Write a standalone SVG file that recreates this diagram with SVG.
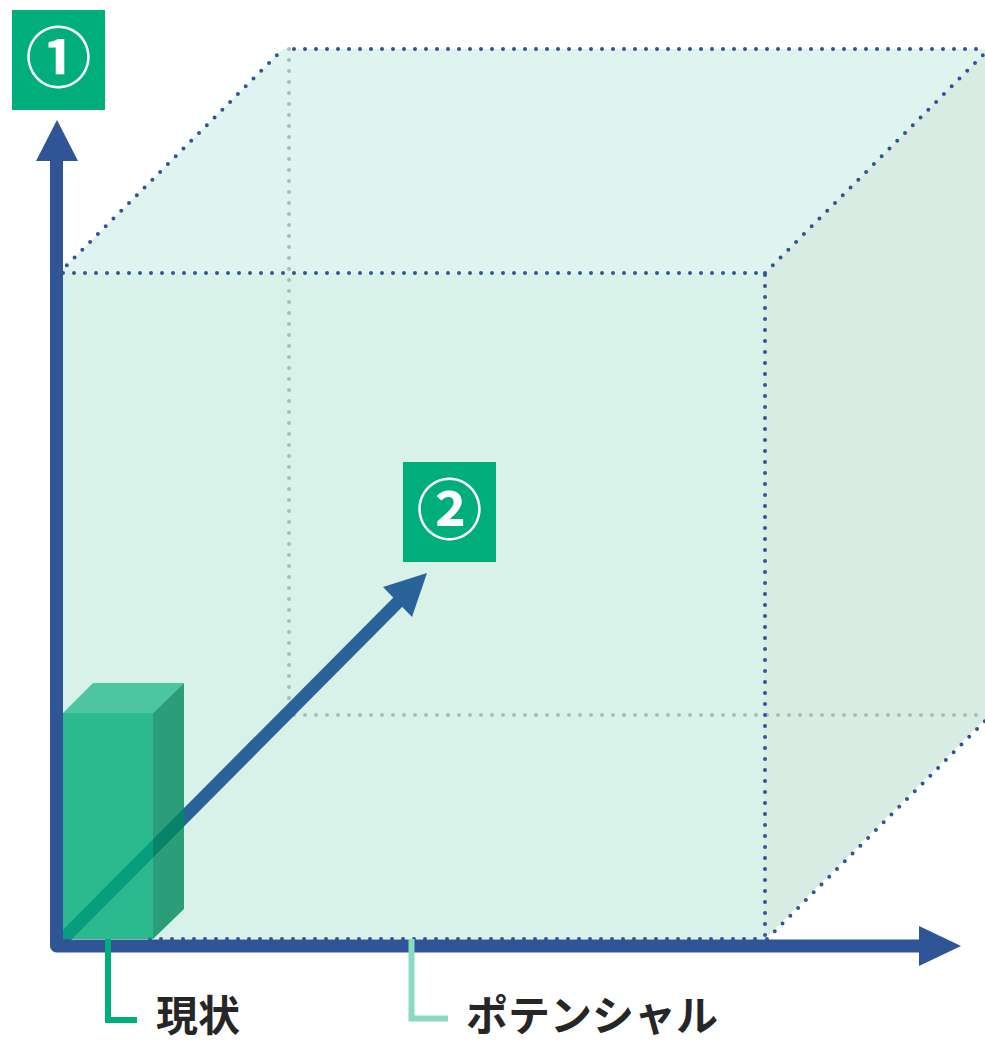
<svg xmlns="http://www.w3.org/2000/svg" width="985" height="1051" viewBox="0 0 985 1051">
<style>
.dot{fill:none;stroke:#2f5597;stroke-width:4;stroke-linecap:round;stroke-dasharray:0 11}
.gdot{fill:none;stroke:#a8bdb5;stroke-width:4;stroke-linecap:round;stroke-dasharray:0 11}
.badge{fill:#00ae7b}
.num{font-family:"Noto Sans CJK JP","DejaVu Sans",sans-serif;font-weight:bold;fill:#fff;text-anchor:middle}
.lbl{font-family:"Noto Sans CJK JP","Noto Sans CJK SC",sans-serif;font-weight:bold;font-size:42px;fill:#262626}
</style>
<rect width="985" height="1051" fill="#fff"/>
<g id="cube">
<polygon points="59,273 283,49 989,49 765,273" fill="#dff4ef"/>
<polygon points="63,273 765,273 765,939 63,939" fill="#d8f1e9"/>
<polygon points="765,273 989,49 989,715 765,939" fill="#d9ece4"/>
<path class="gdot" d="M289,49 V715 H989"/>
<path class="dot" d="M63,273 H765 V939"/>
<path class="dot" d="M59,273 L283,49"/>
<path class="dot" d="M294,49 H989"/>
<path class="dot" d="M765,273 L989,49"/>
<path class="dot" d="M767,939 L991,715"/>
<path class="dot" d="M150,939 H765"/>
</g>
<g id="connectors">
<path d="M57,945 L400,600" stroke="#29639a" stroke-width="13" fill="none"/>
<polygon points="427,573 383,587 412,617" fill="#29639a"/>
</g>
<g id="current-bar">
<polygon points="63,713 93,683 184,683 153,713" fill="#2abc8d" fill-opacity="0.8"/>
<rect x="63" y="713" width="90" height="226" fill="#00ab77" fill-opacity="0.8"/>
<polygon points="153,713 184,683 184,909 153,939" fill="#008a5c" fill-opacity="0.8"/>
</g>
<g id="axes">
<path d="M56.5,161 V946 H920" stroke="#2f5597" stroke-width="13" fill="none" stroke-linejoin="round"/>
<polygon points="57,120 36,161 78,161" fill="#2f5597"/>
<polygon points="961,946 919,926 919,966" fill="#2f5597"/>
</g>
<g id="badge1">
<rect class="badge" x="12" y="10" width="93" height="100"/>
<text class="num" x="58.5" y="82" font-size="66">①</text>
</g>
<g id="badge2">
<rect class="badge" x="403" y="462" width="93" height="100"/>
<text class="num" x="449.5" y="534" font-size="66">②</text>
</g>
<g id="label-current">
<path d="M108,939 V1020 H137" stroke="#00ae7b" stroke-width="6" fill="none"/>
<text class="lbl" x="156" y="1031">現状</text>
</g>
<g id="label-potential">
<path d="M411.5,939 V1018.5 H448" stroke="#88dbc1" stroke-width="6" fill="none"/>
<text class="lbl" x="466" y="1031">ポテンシャル</text>
</g>
</svg>
